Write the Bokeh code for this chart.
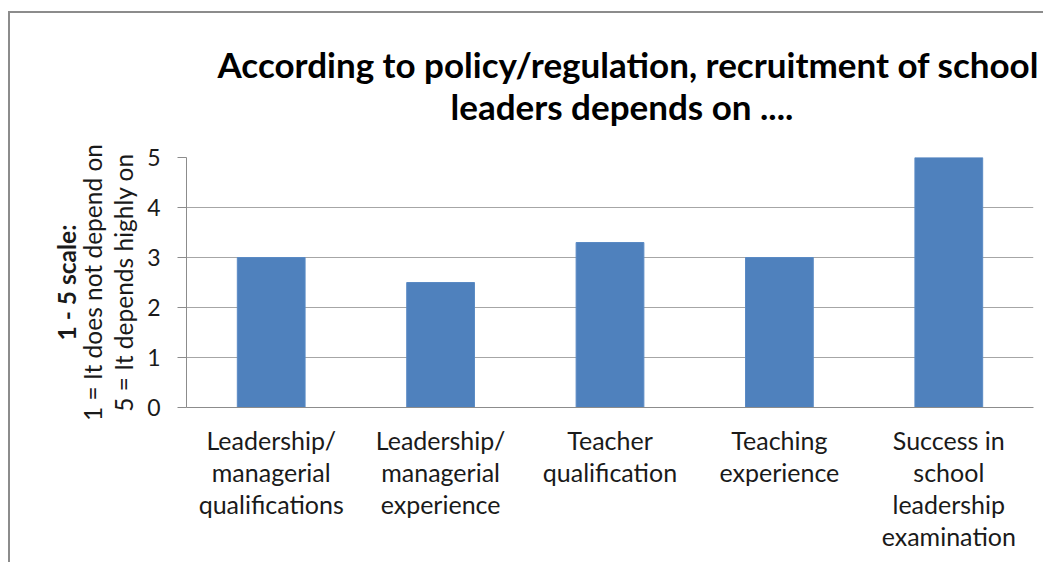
from bokeh.plotting import figure
from bokeh.models import (FactorRange, Range1d, LinearAxis, FixedTicker, Title, ColumnDataSource)
from bokeh.embed import file_html
from bokeh.resources import INLINE

categories = [
    "Leadership/\nmanagerial\nqualifications",
    "Leadership/\nmanagerial\nexperience",
    "Teacher\nqualification",
    "Teaching\nexperience",
    "Success in\nschool\nleadership\nexamination",
]
values = [3.0, 2.5, 3.3, 3.0, 5.0]
y_ticks = [0, 1, 2, 3, 4, 5]
title_lines = ["According to policy/regulation, recruitment of school", "leaders depends on ...."]
y_label_lines = ["1 - 5 scale:", "1 = It does not depend on", "5 = It depends highly on"]

FONT = "Lato"
GRID = "#a6a6a6"
AXIS = "#8c8c8c"
BAR = "#4F81BD"

src = ColumnDataSource(data=dict(cat=categories, val=values))

p = figure(
    width=1035, height=551,
    x_range=FactorRange(factors=categories),
    y_range=Range1d(0, 5),
    output_backend="svg", toolbar_location=None,
    min_border_left=176, min_border_top=144, min_border_right=12, min_border_bottom=157,
    styles={"border-top": "2px solid #8c8c8c", "border-left": "2px solid #8c8c8c",
            "margin-top": "11px", "margin-left": "8px"},
)
p.outline_line_color = None
p.background_fill_color = "white"
p.border_fill_color = "white"

p.vbar(x="cat", top="val", width=0.4, source=src, fill_color=BAR, line_color="#5a8ac4", line_width=1)

# grid
p.xgrid.grid_line_color = None
p.ygrid.grid_line_color = GRID
p.ygrid.ticker = FixedTicker(ticks=y_ticks)

# y axis
ya = p.yaxis[0]
ya.ticker = FixedTicker(ticks=y_ticks)
ya.axis_line_color = AXIS
ya.major_tick_line_color = AXIS
ya.major_tick_in = 0
ya.major_tick_out = 9
ya.minor_tick_line_color = None
ya.major_label_standoff = 17
ya.major_label_text_font = FONT
ya.major_label_text_font_size = "23px"
ya.major_label_text_color = "#1a1a1a"
ya.axis_label = y_label_lines[2]
ya.axis_label_text_font = FONT
ya.axis_label_text_font_size = "24.5px"
ya.axis_label_text_font_style = "normal"
ya.axis_label_text_color = "#1a1a1a"
ya.axis_label_standoff = 6

for txt, style, standoff in [(y_label_lines[1], "normal", 0), (y_label_lines[0], "bold", -6)]:
    ax = LinearAxis(ticker=FixedTicker(ticks=[]), axis_label=txt)
    ax.axis_line_color = None
    ax.major_tick_line_color = None
    ax.minor_tick_line_color = None
    ax.major_tick_in = 0
    ax.major_tick_out = 0
    ax.major_label_text_font_size = "0px"
    ax.major_label_standoff = 0
    ax.axis_label_text_font = FONT
    ax.axis_label_text_font_size = "24.5px"
    ax.axis_label_text_font_style = style
    ax.axis_label_text_color = "#1a1a1a"
    ax.axis_label_standoff = standoff
    p.add_layout(ax, "left")

# x axis
xa = p.xaxis[0]
xa.axis_line_color = AXIS
xa.major_tick_line_color = None
xa.minor_tick_line_color = None
xa.major_label_text_font = FONT
xa.major_label_text_font_size = "25px"
xa.major_label_text_color = "#1a1a1a"
xa.major_label_text_line_height = 1.067
xa.major_label_standoff = 11
xa.major_label_orientation = "horizontal"

# title: spacer panel next to the frame, then line 2, then line 1
p.add_layout(Title(text=" ", text_font=FONT, text_font_size="35px", standoff=-12), "above")
for txt, off in [(title_lines[1], 264), (title_lines[0], 31)]:
    t = Title(text=txt, align="left", text_font=FONT, text_font_size="35px",
              text_font_style="bold", text_color="#000000", standoff=-2, offset=off)
    p.add_layout(t, "above")

open("out.html", "w").write(file_html(p, INLINE))
